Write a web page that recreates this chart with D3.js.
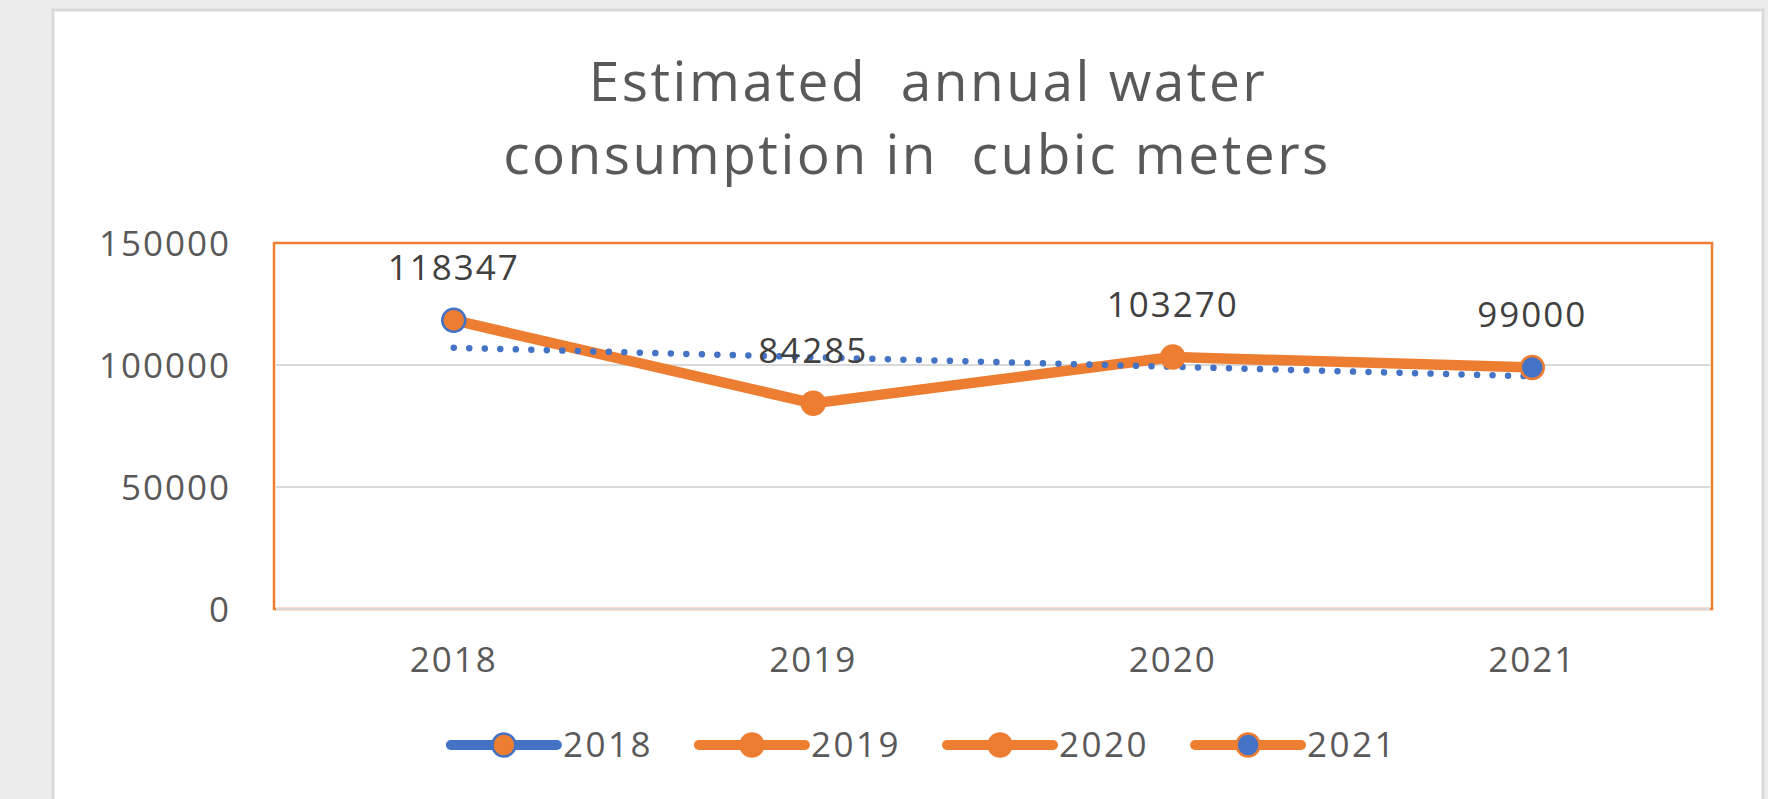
<!DOCTYPE html>
<html lang="en">
<head>
    <meta charset="UTF-8">
    <title>Estimated annual water consumption</title>
    <style>
        body {
            margin: 0;
            background: #ececec;
            font-family: "Open Sans", Arial, sans-serif;
        }
        svg {
            display: block;
        }
    </style>
    <script src="https://d3js.org/d3.v7.min.js"></script>
</head>
<body>
    <div id="chart"></div>

    <script>
        // data
        const years = ["2018", "2019", "2020", "2021"];
        const consumption = [118347, 84285, 103270, 99000];
        const yTicks = [0, 50000, 100000, 150000];
        const titleLines = ["Estimated  annual water", "consumption in  cubic meters"];

        const blue = "#4472c4";
        const orange = "#ed7d31";

        // marker look per point (Excel varied point colors)
        const markerStyle = {
            "2018": { fill: orange, stroke: blue, line: blue },
            "2019": { fill: orange, stroke: orange, line: orange },
            "2020": { fill: orange, stroke: orange, line: orange },
            "2021": { fill: blue, stroke: orange, line: orange }
        };

        const width = 1768, height = 799;
        const plot = { left: 274, right: 1712, top: 243, bottom: 609 };

        const svg = d3.select("#chart").append("svg")
            .attr("width", width)
            .attr("height", height);

        // card
        svg.append("rect")
            .attr("x", 53).attr("y", 10)
            .attr("width", 1763 - 53).attr("height", height)
            .attr("fill", "#fff")
            .attr("stroke", "#d9d9d9")
            .attr("stroke-width", 3);

        const x = d3.scaleBand().domain(years).range([plot.left, plot.right]);
        const cx = d => x(d) + x.bandwidth() / 2;
        const y = d3.scaleLinear().domain([0, 150000]).range([plot.bottom, plot.top]);

        // title
        svg.append("g").selectAll("text")
            .data(titleLines)
            .join("text")
            .attr("x", (d, i) => i ? 917 : 928)
            .attr("y", (d, i) => 101 + i * 73)
            .attr("text-anchor", "middle")
            .attr("font-size", 55)
            .attr("letter-spacing", 2.5)
            .attr("fill", "#595959")
            .style("white-space", "pre")
            .text(d => d);

        // plot area border
        svg.append("rect")
            .attr("x", plot.left).attr("y", plot.top)
            .attr("width", plot.right - plot.left)
            .attr("height", plot.bottom - plot.top)
            .attr("fill", "none")
            .attr("stroke", orange)
            .attr("stroke-width", 2.5);

        // gridlines
        svg.append("g").selectAll("line")
            .data(yTicks.filter(t => t < 150000))
            .join("line")
            .attr("x1", plot.left + 2).attr("x2", plot.right - 2)
            .attr("y1", d => y(d)).attr("y2", d => y(d))
            .attr("stroke", "#d9d9d9")
            .attr("stroke-width", 2);

        // y axis labels
        const yAxis = svg.append("g")
            .attr("transform", `translate(${plot.left},0)`)
            .call(d3.axisLeft(y).tickValues(yTicks).tickSize(0).tickPadding(43).tickFormat(d3.format("d")));
        yAxis.select(".domain").remove();
        yAxis.selectAll("text")
            .attr("font-family", "Open Sans")
            .attr("font-size", 35)
            .attr("letter-spacing", 2)
            .attr("fill", "#595959")
            .attr("dy", 12);

        // x axis labels
        const xAxis = svg.append("g")
            .attr("transform", `translate(0,${plot.bottom})`)
            .call(d3.axisBottom(x).tickSize(0).tickPadding(0));
        xAxis.select(".domain").remove();
        xAxis.selectAll("text")
            .attr("font-family", "Open Sans")
            .attr("font-size", 35)
            .attr("letter-spacing", 2)
            .attr("fill", "#595959")
            .attr("y", 63)
            .attr("dy", 0);

        // series line
        const pts = years.map((yr, i) => ({ year: yr, value: consumption[i] }));
        svg.append("path")
            .datum(pts)
            .attr("fill", "none")
            .attr("stroke", orange)
            .attr("stroke-width", 10.5)
            .attr("stroke-linejoin", "round")
            .attr("d", d3.line().x(d => cx(d.year)).y(d => y(d.value)));

        // linear trendline (least squares over category index)
        const n = consumption.length;
        const mx = d3.mean(d3.range(n));
        const my = d3.mean(consumption);
        const slope = d3.sum(consumption, (v, i) => (i - mx) * (v - my)) /
            d3.sum(d3.range(n), i => (i - mx) * (i - mx));
        const trend = [0, n - 1].map(i => ({ year: years[i], value: my + slope * (i - mx) }));
        svg.append("path")
            .datum(trend)
            .attr("fill", "none")
            .attr("stroke", blue)
            .attr("stroke-width", 6.5)
            .attr("stroke-linecap", "round")
            .attr("stroke-dasharray", "0.01 15.5")
            .attr("d", d3.line().x(d => cx(d.year)).y(d => y(d.value)));

        // markers
        svg.append("g").selectAll("circle")
            .data(pts)
            .join("circle")
            .attr("cx", d => cx(d.year))
            .attr("cy", d => y(d.value))
            .attr("r", 11.5)
            .attr("fill", d => markerStyle[d.year].fill)
            .attr("stroke", d => markerStyle[d.year].stroke)
            .attr("stroke-width", 2.5);

        // data labels
        svg.append("g").selectAll("text")
            .data(pts)
            .join("text")
            .attr("x", d => cx(d.year))
            .attr("y", d => y(d.value) - 40)
            .attr("text-anchor", "middle")
            .attr("font-size", 35)
            .attr("letter-spacing", 2)
            .attr("fill", "#404040")
            .text(d => d.value);

        // legend
        const legend = svg.append("g");
        const items = legend.selectAll("g")
            .data(years)
            .join("g");
        items.append("line")
            .attr("x1", 0).attr("x2", 106)
            .attr("y1", 0).attr("y2", 0)
            .attr("stroke", d => markerStyle[d].line)
            .attr("stroke-width", 10)
            .attr("stroke-linecap", "round");
        items.append("circle")
            .attr("cx", 53).attr("cy", 0)
            .attr("r", 11.5)
            .attr("fill", d => markerStyle[d].fill)
            .attr("stroke", d => markerStyle[d].stroke)
            .attr("stroke-width", 2.5);
        items.append("text")
            .attr("x", 112).attr("y", 12)
            .attr("font-size", 35)
            .attr("letter-spacing", 2.5)
            .attr("fill", "#595959")
            .text(d => d);

        let offset = 0;
        const gap = 46;
        const widths = [];
        items.each(function () { widths.push(this.getBBox().width); });
        const total = d3.sum(widths) + gap * (widths.length - 1);
        let start = 924 - total / 2;
        items.attr("transform", (d, i) => {
            const t = `translate(${start + offset},745)`;
            offset += widths[i] + gap;
            return t;
        });
    </script>
</body>
</html>
